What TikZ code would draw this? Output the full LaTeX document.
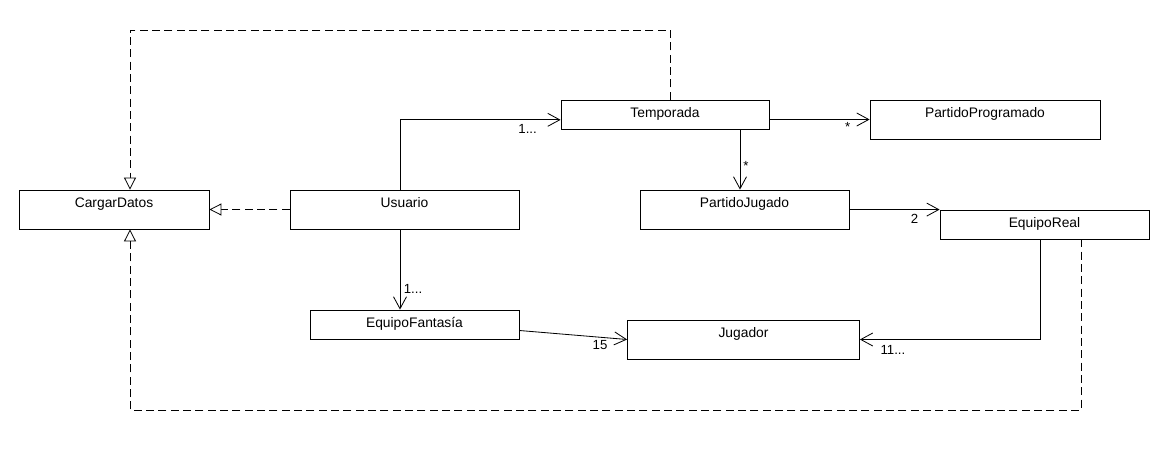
\documentclass[tikz,border=0pt]{standalone}
\usepackage{fontspec}
\setmainfont{Liberation Sans}
\usetikzlibrary{arrows.meta,positioning}

\begin{document}
\begin{tikzpicture}[x=0.3mm,y=-0.3mm,
  clase/.style={draw,line width=0.7pt,fill=white,inner sep=0pt,minimum height=8.7mm,
    font=\fontsize{11.8}{14}\selectfont,text height=8.5pt,text depth=3pt},
  alta/.style={clase,minimum height=11.7mm,text depth=11.5pt},
  asoc/.style={line width=0.7pt,-{Straight Barb[length=3.6mm,width=3.9mm]}},
  realiza/.style={line width=0.7pt,dash pattern=on 2.4mm off 1.3mm,
    -{Triangle[open,length=3.6mm,width=3.6mm,fill=white]}},
  mult/.style={font=\fontsize{11.3}{13}\selectfont,inner sep=0pt}]
\useasboundingbox[fill=white] (0,0) rectangle (1170,450);

% the classes
\node[alta,minimum width=57mm] (cargar) at (114,209.5) {CargarDatos};
\node[alta,minimum width=68.7mm] (usuario) at (404.5,209.5) {Usuario};
\node[clase,minimum width=62.4mm] (temporada) at (665,114.5) {Temporada};
\node[alta,minimum width=69mm] (programado) at (985,119.5) {PartidoProgramado};
\node[alta,minimum width=62.7mm] (jugado) at (744.5,209.5) {PartidoJugado};
\node[clase,minimum width=62.7mm] (real) at (1044.5,224.5) {EquipoReal};
\node[clase,minimum width=62.7mm] (fantasia) at (414.5,324.5) {EquipoFantasía};
\node[alta,minimum width=69.6mm] (jugador) at (743.5,339.5) {Jugador};

% associations with their multiplicities
\draw[asoc] ([xshift=-1.35mm]usuario.north) |- ([yshift=-1.6mm]temporada.west)
  node[mult,pos=1,xshift=-9.9mm,yshift=-2.7mm] {1...};
\draw[asoc] (temporada.east |- programado.west) -- (programado.west)
  node[mult,pos=1,xshift=-6.6mm,yshift=-2.1mm] {*};
\draw[asoc] ([xshift=-1.35mm]jugado.north |- temporada.south) -- ([xshift=-1.35mm]jugado.north)
  node[mult,pos=1,xshift=1.8mm,yshift=7.2mm] {*};
\draw[asoc] (jugado.east |- real.north west) -- (real.north west)
  node[mult,pos=1,xshift=-7.5mm,yshift=-2.7mm] {2};
\draw[asoc] ([xshift=-1.35mm]real.south) |- (jugador.east)
  node[mult,pos=1,xshift=9.9mm,yshift=-3mm] {11...};
\draw[asoc] ([yshift=-1.8mm]fantasia.east) -- (jugador.west)
  node[mult,pos=1,xshift=-8.1mm,yshift=-1.8mm] {15};
\draw[asoc] ([xshift=-1.35mm]usuario.south) -- ([xshift=-1.35mm]usuario.south |- fantasia.north)
  node[mult,pos=1,xshift=3.9mm,yshift=6.3mm] {1...};

% the dashed lines to CargarDatos
\coordinate (arriba) at (130,30);
\coordinate (abajo) at (130,410);
\draw[realiza] (usuario.west) -- (cargar.east);
\draw[realiza] ([xshift=1.5mm]temporada.north) |- (arriba) -- (arriba |- cargar.north);
\draw[realiza] ([xshift=11mm]real.south) |- (abajo) -- (abajo |- cargar.south);
\end{tikzpicture}
\end{document}
